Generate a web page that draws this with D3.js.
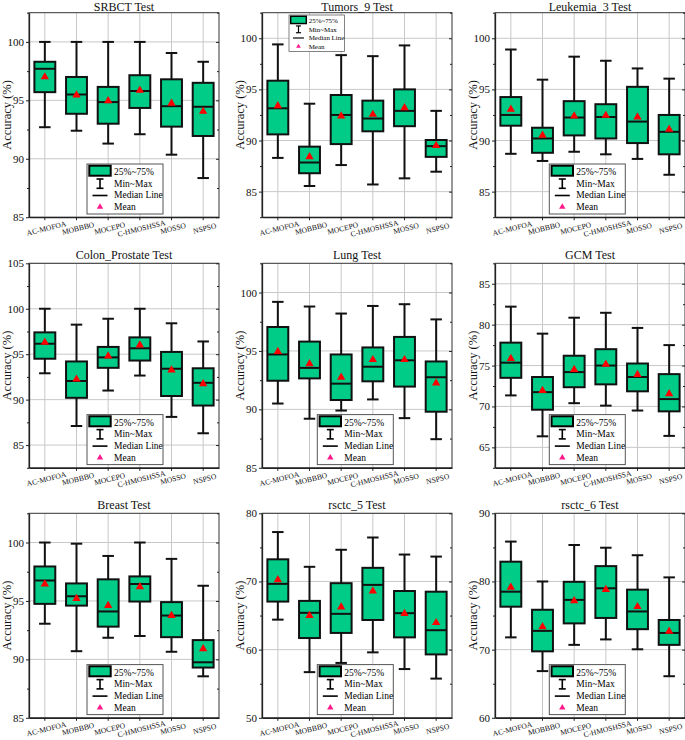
<!DOCTYPE html>
<html><head><meta charset="utf-8">
<script src="https://cdn.jsdelivr.net/npm/d3@7"></script>
<style>body{margin:0;background:#fff} svg{display:block}</style>
</head><body>
<script>
// ---------- DATA ----------
const categories = ["AC-MOFOA", "MOBBBO", "MOCEPO", "C-HMOSHSSA", "MOSSO", "NSPSO"];
const panelTitles = ["SRBCT Test", "Tumors_9 Test", "Leukemia_3 Test", "Colon_Prostate Test", "Lung Test", "GCM Test", "Breast Test", "rsctc_5 Test", "rsctc_6 Test"];
const yDomains = [[85, 102.5], [82.5, 102.5], [82.5, 102.5], [82.5, 105], [85, 102.5], [62.5, 87.5], [85, 102.5], [50, 80], [60, 90]];
const yTickLabels = [[85, 90, 95, 100], [85, 90, 95, 100], [85, 90, 95, 100], [85, 90, 95, 100, 105], [85, 90, 95, 100], [65, 70, 75, 80, 85], [85, 90, 95, 100], [50, 60, 70, 80], [60, 70, 80, 90]];
const legendLabels = ["25%~75%", "Min~Max", "Median Line", "Mean"];

const srbctMin  = [92.7, 92.4, 91.3, 92.1, 90.35, 88.35];
const srbctQ1   = [95.7, 93.85, 93.0, 94.35, 92.75, 91.95];
const srbctMed  = [97.7, 95.5, 94.85, 95.8, 94.5, 94.45];
const srbctQ3   = [98.3, 97.0, 96.15, 97.15, 96.8, 96.5];
const srbctMax  = [100, 100, 100, 100, 99.05, 98.3];
const srbctMean = [97.0, 95.45, 94.95, 95.85, 94.75, 94.05];

const tumorsMin  = [88.3, 85.55, 87.6, 85.7, 86.3, 86.95];
const tumorsQ1   = [90.6, 86.8, 89.65, 90.9, 91.4, 88.4];
const tumorsMed  = [93.15, 87.85, 92.5, 92.15, 92.9, 89.45];
const tumorsQ3   = [95.85, 89.4, 94.45, 93.9, 95.0, 90.05];
const tumorsMax  = [99.4, 93.6, 98.35, 98.25, 99.3, 92.9];
const tumorsMean = [93.4, 88.4, 92.4, 92.55, 93.2, 89.5];

const leukMin  = [88.7, 88.0, 88.9, 88.65, 88.2, 86.65];
const leukQ1   = [91.45, 88.8, 90.5, 90.2, 89.75, 88.65];
const leukMed  = [92.5, 90.2, 92.25, 92.3, 91.85, 90.85];
const leukQ3   = [94.25, 91.25, 93.85, 93.55, 95.25, 92.5];
const leukMax  = [98.9, 95.95, 98.2, 97.8, 97.05, 96.05];
const leukMean = [93.05, 90.5, 92.4, 92.45, 92.3, 91.1];

const colonMin  = [92.9, 87.1, 91.0, 92.65, 88.1, 86.3];
const colonQ1   = [94.5, 90.2, 93.5, 94.3, 90.4, 89.35];
const colonMed  = [96.15, 92.05, 94.65, 95.65, 93.4, 91.85];
const colonQ3   = [97.4, 94.2, 95.8, 96.85, 95.25, 93.45];
const colonMax  = [100, 98.25, 98.9, 100, 98.4, 96.4];
const colonMean = [96.3, 92.25, 94.8, 96.0, 93.25, 91.75];

const lungMin  = [90.5, 89.2, 89.9, 90.85, 89.25, 87.45];
const lungQ1   = [92.45, 92.65, 90.8, 92.4, 91.95, 89.8];
const lungMed  = [94.7, 93.55, 92.2, 93.65, 94.2, 92.75];
const lungQ3   = [97.05, 95.8, 94.7, 95.3, 96.2, 94.1];
const lungMax  = [99.2, 98.8, 98.2, 98.85, 99.0, 97.7];
const lungMean = [94.95, 93.9, 92.75, 94.25, 94.25, 92.25];

const gcmMin  = [71.35, 66.35, 70.4, 70.1, 69.5, 66.4];
const gcmQ1   = [73.5, 69.6, 72.35, 72.7, 71.85, 69.4];
const gcmMed  = [75.35, 71.75, 74.2, 75.0, 73.6, 70.9];
const gcmQ3   = [77.8, 73.6, 76.2, 77.0, 75.25, 73.95];
const gcmMax  = [82.2, 78.9, 80.85, 81.45, 79.6, 77.5];
const gcmMean = [75.85, 71.95, 74.5, 75.15, 73.9, 71.55];

const breastMin  = [93.05, 90.7, 91.85, 92.0, 90.65, 88.55];
const breastQ1   = [94.75, 94.6, 92.8, 94.95, 91.9, 89.3];
const breastMed  = [96.75, 95.4, 94.1, 96.45, 93.75, 89.75];
const breastQ3   = [97.95, 96.5, 96.85, 97.1, 94.9, 91.65];
const breastMax  = [100, 99.9, 98.85, 100, 98.6, 96.3];
const breastMean = [96.45, 95.2, 94.6, 96.2, 93.75, 90.9];

const r5Min  = [64.4, 56.7, 58.05, 59.6, 57.15, 55.75];
const r5Q1   = [67.05, 61.7, 62.45, 64.35, 61.8, 59.3];
const r5Med  = [69.65, 65.4, 65.25, 69.5, 65.35, 62.85];
const r5Q3   = [73.25, 67.15, 69.75, 72.0, 68.6, 68.5];
const r5Max  = [77.25, 72.15, 74.65, 76.45, 73.95, 73.65];
const r5Mean = [70.25, 65.0, 66.25, 68.6, 65.3, 63.95];

const r6Min  = [71.8, 66.85, 70.7, 71.5, 70.05, 66.1];
const r6Q1   = [76.3, 69.75, 73.85, 74.65, 73.0, 70.7];
const r6Med  = [78.5, 72.75, 77.3, 79.0, 75.6, 72.45];
const r6Q3   = [82.9, 75.85, 79.95, 82.25, 78.8, 74.35];
const r6Max  = [85.85, 80.0, 85.35, 84.95, 83.85, 80.6];
const r6Mean = [79.15, 73.35, 77.15, 78.8, 76.3, 72.7];

const panelStats = [
  [srbctMin, srbctQ1, srbctMed, srbctQ3, srbctMax, srbctMean],
  [tumorsMin, tumorsQ1, tumorsMed, tumorsQ3, tumorsMax, tumorsMean],
  [leukMin, leukQ1, leukMed, leukQ3, leukMax, leukMean],
  [colonMin, colonQ1, colonMed, colonQ3, colonMax, colonMean],
  [lungMin, lungQ1, lungMed, lungQ3, lungMax, lungMean],
  [gcmMin, gcmQ1, gcmMed, gcmQ3, gcmMax, gcmMean],
  [breastMin, breastQ1, breastMed, breastQ3, breastMax, breastMean],
  [r5Min, r5Q1, r5Med, r5Q3, r5Max, r5Mean],
  [r6Min, r6Q1, r6Med, r6Q3, r6Max, r6Mean]
];

// ---------- LAYOUT / STYLE ----------
const W = 685, H = 740;
const colLeft = [29, 262, 495];
const rowTop = [12.7, 263.3, 513.3];
const plotW = 190, plotH = 204.5;
const legendXOff = [58, 55.3, 54.3];
const FONT = "'Liberation Serif','Times New Roman',serif";
const BOX_FILL = "#00cc88";
const MEAN_RED = "#ff0000";
const MEAN_PINK = "#ff1a8c";
const GRID = "#c8c8c8";

const svg = d3.select("body").append("svg").attr("width", W).attr("height", H)
  .style("font-family", FONT);

function drawLegend(g) {
  g.append("rect").attr("x", 0).attr("y", 0).attr("width", 76).attr("height", 50)
    .attr("fill", "#fff").attr("stroke", "#555").attr("stroke-width", 1);
  g.append("rect").attr("x", 2.3).attr("y", 1.7).attr("width", 21.4).attr("height", 10)
    .attr("fill", BOX_FILL).attr("stroke", "#000").attr("stroke-width", 2);
  const ib = g.append("g").attr("stroke", "#000").attr("stroke-width", 1.6);
  ib.append("line").attr("x1", 13).attr("x2", 13).attr("y1", 15).attr("y2", 24.3);
  ib.append("line").attr("x1", 9.5).attr("x2", 16.5).attr("y1", 15).attr("y2", 15);
  ib.append("line").attr("x1", 9.5).attr("x2", 16.5).attr("y1", 24.3).attr("y2", 24.3);
  g.append("line").attr("x1", 5.5).attr("x2", 20.5).attr("y1", 31.5).attr("y2", 31.5)
    .attr("stroke", "#000").attr("stroke-width", 1.6);
  g.append("path").attr("d", d3.symbol(d3.symbolTriangle, 18)())
    .attr("transform", "translate(13,43)").attr("fill", MEAN_PINK);
  const ty = [11, 22.7, 34.2, 46];
  legendLabels.forEach((t, k) => {
    g.append("text").attr("x", 27).attr("y", ty[k]).attr("font-size", 9.5).attr("fill", "#000").text(t);
  });
}

panelTitles.forEach((title, i) => {
  const col = i % 3, row = Math.floor(i / 3);
  const left = colLeft[col], top = rowTop[row];
  const bottom = top + plotH, right = left + plotW;
  const [mins, q1s, meds, q3s, maxs, means] = panelStats[i];
  const x = d3.scaleBand().domain(categories).range([left, right]).padding(0);
  const y = d3.scaleLinear().domain(yDomains[i]).range([bottom, top]);
  const cx = c => x(c) + x.bandwidth() / 2;
  const bw = x.bandwidth() * 0.66, capW = 11.5;
  const ticks = yTickLabels[i];
  const step = ticks[1] - ticks[0];
  const minor = d3.range(yDomains[i][0], yDomains[i][1] + 1e-6, step / 2).filter(v => !ticks.some(t => Math.abs(t - v) < 1e-6));

  const g = svg.append("g");
  // grid
  g.append("g").selectAll("line").data(ticks).join("line")
    .attr("x1", left).attr("x2", right).attr("y1", d => y(d)).attr("y2", d => y(d))
    .attr("stroke", GRID).attr("stroke-width", 1);
  g.append("g").selectAll("line").data(categories).join("line")
    .attr("x1", cx).attr("x2", cx).attr("y1", top).attr("y2", bottom)
    .attr("stroke", GRID).attr("stroke-width", 1);

  // whiskers
  const wg = g.append("g").attr("stroke", "#111").attr("stroke-width", 2);
  categories.forEach((c, k) => {
    wg.append("line").attr("x1", cx(c)).attr("x2", cx(c)).attr("y1", y(maxs[k])).attr("y2", y(q3s[k]));
    wg.append("line").attr("x1", cx(c)).attr("x2", cx(c)).attr("y1", y(q1s[k])).attr("y2", y(mins[k]));
    wg.append("line").attr("x1", cx(c) - capW / 2).attr("x2", cx(c) + capW / 2).attr("y1", y(maxs[k])).attr("y2", y(maxs[k]));
    wg.append("line").attr("x1", cx(c) - capW / 2).attr("x2", cx(c) + capW / 2).attr("y1", y(mins[k])).attr("y2", y(mins[k]));
  });
  // boxes
  g.append("g").selectAll("rect").data(categories).join("rect")
    .attr("x", c => cx(c) - bw / 2).attr("width", bw)
    .attr("y", (c, k) => y(q3s[k])).attr("height", (c, k) => y(q1s[k]) - y(q3s[k]))
    .attr("fill", BOX_FILL).attr("stroke", "#111").attr("stroke-width", 2);
  // medians
  g.append("g").selectAll("line").data(categories).join("line")
    .attr("x1", c => cx(c) - bw / 2).attr("x2", c => cx(c) + bw / 2)
    .attr("y1", (c, k) => y(meds[k])).attr("y2", (c, k) => y(meds[k]))
    .attr("stroke", "#111").attr("stroke-width", 2);
  // means
  g.append("g").selectAll("path").data(categories).join("path")
    .attr("d", d3.symbol(d3.symbolTriangle, 30)())
    .attr("transform", (c, k) => `translate(${cx(c)},${y(means[k])})`)
    .attr("fill", MEAN_RED);

  // frame
  g.append("rect").attr("x", left).attr("y", top).attr("width", plotW).attr("height", plotH)
    .attr("fill", "none").attr("stroke", "#333").attr("stroke-width", 1);

  // y axis
  const ya = g.append("g").attr("transform", `translate(${left},0)`)
    .call(d3.axisLeft(y).tickValues(ticks).tickSize(3).tickSizeOuter(0).tickPadding(2).tickFormat(d3.format("d")));
  ya.select(".domain").attr("stroke", "#222").attr("stroke-width", 1.3);
  ya.selectAll("text").attr("font-size", 11).attr("font-family", FONT).attr("fill", "#111");
  ya.selectAll(".tick line").attr("stroke", "#222");
  g.append("g").attr("transform", `translate(${left},0)`)
    .call(d3.axisLeft(y).tickValues(minor).tickSize(2).tickFormat(""))
    .call(s => s.select(".domain").remove()).selectAll("line").attr("stroke", "#222");
  g.append("g").attr("transform", `translate(${right},0)`)
    .call(d3.axisRight(y).tickValues(ticks).tickSize(-3).tickFormat(""))
    .call(s => s.select(".domain").remove()).selectAll("line").attr("stroke", "#222");
  g.append("g").attr("transform", `translate(${right},0)`)
    .call(d3.axisRight(y).tickValues(minor).tickSize(-2).tickFormat(""))
    .call(s => s.select(".domain").remove()).selectAll("line").attr("stroke", "#222");

  // x axis
  const xa = g.append("g").attr("transform", `translate(0,${bottom})`)
    .call(d3.axisBottom(x).tickSize(3).tickSizeOuter(0));
  xa.select(".domain").attr("stroke", "#222").attr("stroke-width", 1.3);
  xa.selectAll(".tick line").attr("stroke", "#222");
  xa.selectAll("text").attr("font-size", 7.6).attr("font-family", FONT).attr("fill", "#111")
    .attr("y", 0).attr("dy", "0.35em").attr("text-anchor", "middle")
    .attr("transform", "translate(1.5,11) rotate(-14)");

  // axis title
  g.append("text").attr("transform", `translate(${left - 22.5},${top + plotH / 2}) rotate(-90)`)
    .attr("text-anchor", "middle").attr("dominant-baseline", "central")
    .attr("font-size", 12.5).attr("fill", "#111").text("Accuracy (%)");
  // title
  g.append("text").attr("x", left + plotW / 2).attr("y", Math.max(top - 4, 10.8))
    .attr("text-anchor", "middle").attr("font-size", 12).attr("fill", "#111").text(title);

  // legend
  let lg;
  if (i === 1) {
    lg = g.append("g").attr("transform", `translate(${left + 27},${top + 2.3}) scale(0.73)`);
  } else {
    lg = g.append("g").attr("transform", `translate(${left + legendXOff[col]},${bottom - 3.2 - 50})`);
  }
  drawLegend(lg);
});
</script>
</body></html>
